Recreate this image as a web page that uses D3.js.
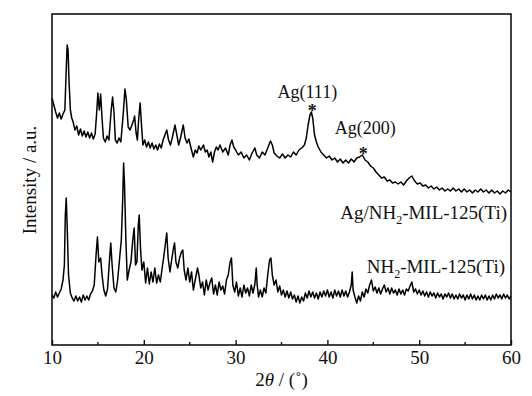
<!DOCTYPE html>
<html>
<head>
<meta charset="utf-8">
<script src="https://cdn.jsdelivr.net/npm/d3@7"></script>
<style>
  body { margin: 0; background: #fff; }
  text { font-family: "Liberation Serif", "Times New Roman", serif; fill: #111; }
</style>
</head>
<body>
<div id="chart"></div>
<script>
// 2theta (deg) and intensity (a.u.)
var agSample = [
  [10.0,247],[10.2,240],[10.4,233],[10.6,227],[10.8,232],[11.0,226],[11.2,231],[11.4,235],[11.55,275],[11.65,300],
  [11.75,295],[11.85,265],[12.0,235],[12.15,227],[12.3,223],[12.5,215],[12.7,219],[12.9,210],[13.1,216],[13.3,209],
  [13.5,214],[13.7,208],[13.9,213],[14.1,207],[14.3,212],[14.5,206],[14.7,211],[14.85,230],[15.0,252],[15.15,235],
  [15.3,251],[15.45,227],[15.6,207],[15.8,203],[16.0,209],[16.2,205],[16.45,235],[16.6,248],[16.75,233],[16.9,205],
  [17.1,202],[17.3,207],[17.5,203],[17.75,230],[17.95,256],[18.1,245],[18.3,218],[18.5,215],[18.7,220],[18.9,225],
  [19.0,229],[19.15,213],[19.3,205],[19.45,227],[19.6,242],[19.75,220],[19.9,200],[20.1,205],[20.3,198],[20.5,203],
  [20.7,197],[20.9,202],[21.1,196],[21.3,200],[21.5,195],[21.7,201],[21.9,197],[22.1,205],[22.3,210],[22.5,215],
  [22.7,205],[22.9,200],[23.1,207],[23.4,220],[23.6,210],[23.8,200],[24.0,207],[24.3,220],[24.5,207],[24.7,202],
  [24.9,206],[25.2,195],[25.4,188],[25.6,195],[25.8,192],[26.0,199],[26.2,195],[26.5,200],[26.7,193],[26.9,195],
  [27.1,188],[27.3,193],[27.5,183],[27.7,193],[27.9,198],[28.1,195],[28.3,200],[28.6,193],[28.9,197],[29.2,190],
  [29.4,200],[29.6,205],[29.8,198],[30.0,195],[30.3,190],[30.6,193],[30.9,187],[31.2,190],[31.5,185],[31.8,192],
  [32.1,197],[32.3,190],[32.6,187],[32.9,193],[33.2,190],[33.5,197],[33.8,204],[34.0,200],[34.2,192],[34.5,189],
  [34.8,187],[35.1,191],[35.4,187],[35.7,190],[36.0,188],[36.3,193],[36.6,190],[36.9,195],[37.2,197],[37.5,200],
  [37.7,207],[37.9,220],[38.1,230],[38.25,233],[38.4,227],[38.6,210],[38.8,203],[39.0,198],[39.3,193],[39.6,190],
  [39.9,187],[40.2,189],[40.5,185],[40.8,187],[41.1,183],[41.4,186],[41.7,182],[42.0,185],[42.3,182],[42.6,186],
  [42.9,183],[43.2,187],[43.5,188],[43.8,190],[44.1,185],[44.4,183],[44.7,179],[45.0,177],[45.3,173],[45.6,170],
  [45.9,167],[46.2,168],[46.5,164],[46.8,165],[47.1,162],[47.4,163],[47.7,161],[48.0,163],[48.3,160],[48.6,164],
  [48.9,167],[49.2,169],[49.5,164],[49.8,161],[50.1,162],[50.4,159],[50.7,160],[51.0,157],[51.3,159],[51.6,156],
  [51.9,158],[52.2,155],[52.5,157],[52.8,154],[53.1,156],[53.4,154],[53.7,157],[54.0,154],[54.3,156],[54.6,153],
  [54.9,156],[55.2,153],[55.5,155],[55.8,152],[56.1,155],[56.4,153],[56.7,156],[57.0,153],[57.3,155],[57.6,152],
  [57.9,155],[58.2,152],[58.5,154],[58.8,151],[59.1,154],[59.4,152],[59.7,155],[60.0,153]
];

var mofSample = [
  [10.0,50],[10.2,47],[10.4,53],[10.6,48],[10.8,52],[11.0,56],[11.2,65],[11.35,80],[11.45,130],[11.55,147],
  [11.65,120],[11.8,70],[12.0,52],[12.2,47],[12.4,44],[12.6,49],[12.8,44],[13.0,48],[13.2,43],[13.4,50],
  [13.6,45],[13.8,49],[14.0,45],[14.2,51],[14.4,54],[14.6,60],[14.8,90],[14.95,108],[15.1,83],[15.3,87],
  [15.45,70],[15.65,55],[15.85,49],[16.05,56],[16.25,83],[16.4,102],[16.55,80],[16.75,57],[16.95,53],[17.15,65],
  [17.35,85],[17.55,105],[17.7,145],[17.8,182],[17.9,160],[18.05,105],[18.2,65],[18.4,75],[18.6,83],[18.8,105],
  [18.95,117],[19.1,80],[19.25,83],[19.4,120],[19.5,130],[19.65,95],[19.8,75],[20.0,83],[20.2,62],[20.4,77],
  [20.6,61],[20.8,73],[21.0,63],[21.2,77],[21.4,62],[21.6,70],[21.8,63],[22.0,77],[22.2,90],[22.4,105],
  [22.5,112],[22.65,87],[22.85,73],[23.0,83],[23.2,95],[23.35,102],[23.5,83],[23.7,77],[23.9,87],[24.1,93],
  [24.25,95],[24.4,75],[24.6,65],[24.8,77],[25.0,63],[25.2,73],[25.4,55],[25.6,65],[25.85,77],[26.0,70],
  [26.2,57],[26.4,63],[26.6,50],[26.8,65],[27.0,55],[27.2,62],[27.4,67],[27.6,51],[27.8,60],[28.0,50],
  [28.2,63],[28.4,55],[28.6,59],[28.8,51],[29.0,65],[29.2,70],[29.4,83],[29.55,87],[29.7,60],[29.9,53],
  [30.1,63],[30.3,49],[30.5,57],[30.7,48],[30.9,60],[31.1,52],[31.3,57],[31.5,49],[31.7,60],[31.9,52],
  [32.1,61],[32.25,77],[32.35,60],[32.5,48],[32.7,55],[32.9,48],[33.1,57],[33.3,52],[33.5,70],[33.7,85],
  [33.85,87],[34.0,70],[34.2,60],[34.4,65],[34.6,53],[34.8,59],[35.0,50],[35.2,55],[35.4,48],[35.6,54],
  [35.8,47],[36.0,53],[36.2,46],[36.4,50],[36.6,43],[36.8,49],[37.0,42],[37.2,48],[37.4,44],[37.6,52],
  [37.8,47],[38.0,54],[38.2,48],[38.4,53],[38.6,47],[38.8,52],[39.0,46],[39.2,53],[39.4,48],[39.6,54],
  [39.8,49],[40.0,55],[40.2,48],[40.4,53],[40.6,47],[40.8,55],[41.0,49],[41.2,54],[41.4,48],[41.6,55],
  [41.8,49],[42.0,54],[42.2,48],[42.4,53],[42.6,60],[42.7,73],[42.8,55],[43.0,48],[43.2,42],[43.4,49],
  [43.6,44],[43.8,53],[44.0,48],[44.2,56],[44.4,52],[44.6,60],[44.8,65],[45.0,54],[45.2,58],[45.4,52],
  [45.6,57],[45.8,51],[46.0,56],[46.2,60],[46.4,53],[46.6,57],[46.8,51],[47.0,57],[47.2,52],[47.4,55],
  [47.6,50],[47.8,56],[48.0,51],[48.2,55],[48.4,50],[48.6,56],[48.8,54],[49.0,59],[49.2,63],[49.4,53],
  [49.6,56],[49.8,51],[50.0,55],[50.2,50],[50.4,54],[50.6,49],[50.8,53],[51.0,48],[51.2,53],[51.4,49],
  [51.6,52],[51.8,47],[52.0,52],[52.2,48],[52.4,51],[52.6,46],[52.8,51],[53.0,48],[53.2,52],[53.4,47],
  [53.6,51],[53.8,46],[54.0,50],[54.2,46],[54.4,51],[54.6,47],[54.8,50],[55.0,45],[55.2,50],[55.4,46],
  [55.6,51],[55.8,46],[56.0,50],[56.2,45],[56.4,49],[56.6,45],[56.8,50],[57.0,46],[57.2,50],[57.4,45],
  [57.6,49],[57.8,45],[58.0,50],[58.2,46],[58.4,51],[58.6,47],[58.8,50],[59.0,46],[59.2,51],[59.4,47],
  [59.6,50],[59.8,46],[60.0,49]
];

var xTicks = [10, 20, 30, 40, 50, 60];
var xMinorTicks = [15, 25, 35, 45, 55];
// peak markers: [2theta, intensity at marker]
var peakMarks = [[38.25, 233], [43.8, 190]];
var peakNames = ["Ag(111)", "Ag(200)"];

var width = 532, height = 396;
var margin = {top: 14, right: 21, bottom: 51, left: 52};

var svg = d3.select("#chart").append("svg")
    .attr("width", width)
    .attr("height", height);

var x = d3.scaleLinear().domain([10, 60]).range([margin.left, width - margin.right]);
var y = d3.scaleLinear().domain([0, 331]).range([height - margin.bottom, margin.top]);

var line = d3.line()
    .x(function(d){ return x(d[0]); })
    .y(function(d){ return y(d[1]); });

[mofSample, agSample].forEach(function(s){
    svg.append("path")
        .datum(s)
        .attr("d", line)
        .attr("fill", "none")
        .attr("stroke", "#000")
        .attr("stroke-width", 1.5)
        .attr("stroke-linejoin", "round");
});

// frame
svg.append("rect")
    .attr("x", margin.left)
    .attr("y", margin.top)
    .attr("width", width - margin.left - margin.right)
    .attr("height", height - margin.top - margin.bottom)
    .attr("fill", "none")
    .attr("stroke", "#111")
    .attr("stroke-width", 1.6);

// bottom axis, ticks pointing in
var xAxis = d3.axisBottom(x).tickValues(xTicks).tickSize(-5).tickPadding(6).tickFormat(d3.format("d"));
var gx = svg.append("g")
    .attr("transform", "translate(0," + (height - margin.bottom) + ")")
    .call(xAxis);
gx.select(".domain").remove();
gx.selectAll(".tick line").attr("stroke", "#111").attr("stroke-width", 1.4);
gx.selectAll(".tick text")
    .style("font-family", "'Liberation Serif', serif")
    .style("font-size", "19px")
    .attr("fill", "#111");

svg.append("g")
    .selectAll("line")
    .data(xMinorTicks)
    .enter()
    .append("line")
    .attr("x1", function(d){ return x(d); })
    .attr("x2", function(d){ return x(d); })
    .attr("y1", height - margin.bottom)
    .attr("y2", height - margin.bottom - 3)
    .attr("stroke", "#111")
    .attr("stroke-width", 1.4);

// axis titles
var xt = svg.append("text")
    .attr("x", (margin.left + width - margin.right) / 2)
    .attr("y", 386)
    .attr("text-anchor", "middle")
    .style("font-size", "19px");
xt.append("tspan").text("2");
xt.append("tspan").attr("font-style", "italic").text("\u03B8");
xt.append("tspan").text(" / (\u02DA)");

svg.append("text")
    .attr("transform", "translate(36,180) rotate(-90)")
    .attr("text-anchor", "middle")
    .style("font-size", "19px")
    .text("Intensity / a.u.");

// peak markers
svg.selectAll(".star")
    .data(peakMarks)
    .enter()
    .append("text")
    .attr("class", "star")
    .attr("x", function(d){ return x(d[0]) + 1; })
    .attr("y", function(d){ return y(d[1]) + 5; })
    .attr("text-anchor", "middle")
    .style("font-size", "18px")
    .style("font-weight", "bold")
    .text("*");

svg.append("text")
    .attr("x", x(peakMarks[0][0]) - 4)
    .attr("y", y(peakMarks[0][1]) - 14)
    .attr("text-anchor", "middle")
    .style("font-size", "18px")
    .text(peakNames[0]);

svg.append("text")
    .attr("x", x(peakMarks[1][0]) + 3)
    .attr("y", y(peakMarks[1][1]) - 21)
    .attr("text-anchor", "middle")
    .style("font-size", "18px")
    .text(peakNames[1]);

// sample labels
function sampleLabel(xp, yp, prefix) {
    var t = svg.append("text")
        .attr("x", xp)
        .attr("y", yp)
        .attr("text-anchor", "end")
        .style("font-size", "19px");
    t.append("tspan").text(prefix + "NH");
    t.append("tspan").attr("dy", 5).style("font-size", "12px").text("2");
    t.append("tspan").attr("dy", -5).text("-MIL-125(Ti)");
}
sampleLabel(507, 219, "Ag/");
sampleLabel(505, 273, "");
</script>
</body>
</html>
